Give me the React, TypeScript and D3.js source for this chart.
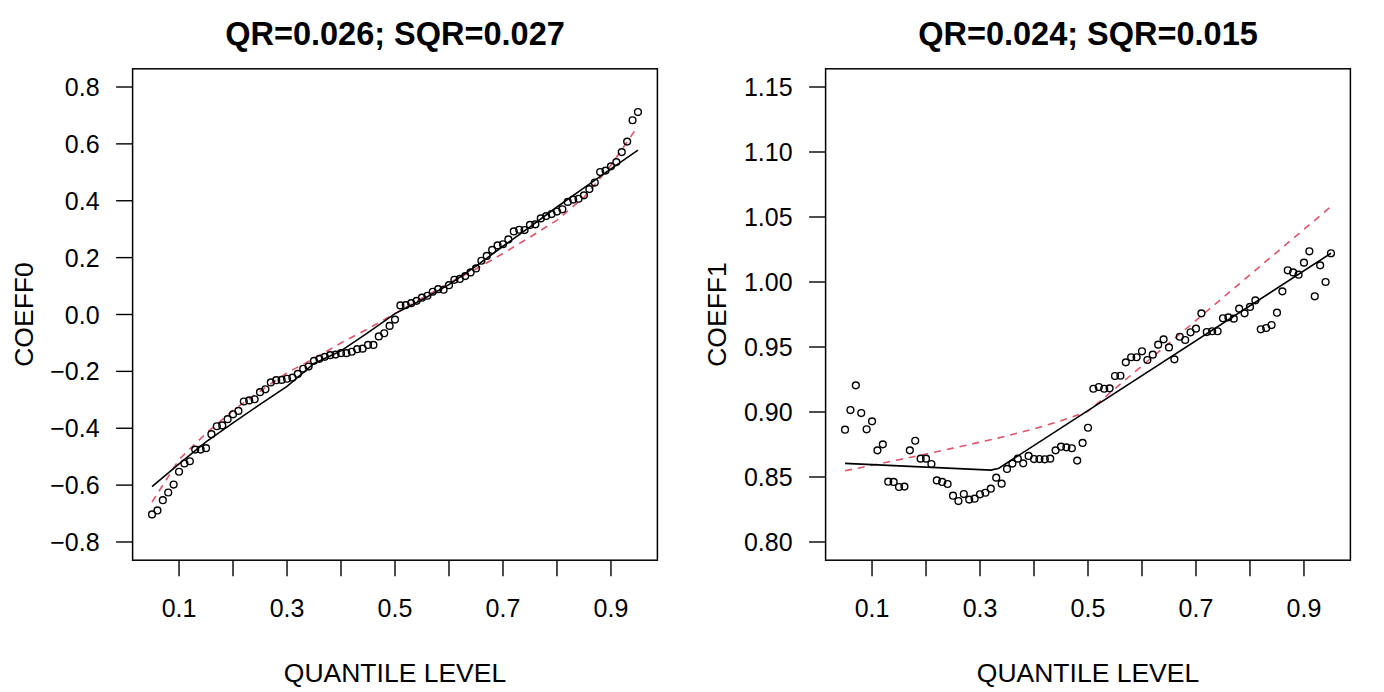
import React from 'react';
import * as d3 from 'd3';

// quantile levels of the estimates (x axis)
const quantileLevels = [
  0.05, 0.06, 0.07, 0.08, 0.09, 0.10, 0.11, 0.12, 0.13, 0.14,
  0.15, 0.16, 0.17, 0.18, 0.19, 0.20, 0.21, 0.22, 0.23, 0.24,
  0.25, 0.26, 0.27, 0.28, 0.29, 0.30, 0.31, 0.32, 0.33, 0.34,
  0.35, 0.36, 0.37, 0.38, 0.39, 0.40, 0.41, 0.42, 0.43, 0.44,
  0.45, 0.46, 0.47, 0.48, 0.49, 0.50, 0.51, 0.52, 0.53, 0.54,
  0.55, 0.56, 0.57, 0.58, 0.59, 0.60, 0.61, 0.62, 0.63, 0.64,
  0.65, 0.66, 0.67, 0.68, 0.69, 0.70, 0.71, 0.72, 0.73, 0.74,
  0.75, 0.76, 0.77, 0.78, 0.79, 0.80, 0.81, 0.82, 0.83, 0.84,
  0.85, 0.86, 0.87, 0.88, 0.89, 0.90, 0.91, 0.92, 0.93, 0.94, 0.95,
];

// QR estimates of the intercept (open circles, left panel)
const coeff0Points = [
  -0.703, -0.689, -0.653, -0.626, -0.598, -0.553, -0.524, -0.516, -0.475, -0.475,
  -0.470, -0.421, -0.393, -0.390, -0.368, -0.351, -0.339, -0.306, -0.302, -0.298,
  -0.273, -0.263, -0.239, -0.231, -0.230, -0.226, -0.222, -0.209, -0.191, -0.183,
  -0.163, -0.156, -0.149, -0.143, -0.141, -0.136, -0.136, -0.131, -0.122, -0.120,
  -0.107, -0.107, -0.077, -0.066, -0.040, -0.018, 0.032, 0.033, 0.040, 0.048,
  0.059, 0.066, 0.080, 0.089, 0.087, 0.103, 0.122, 0.125, 0.135, 0.148,
  0.162, 0.189, 0.206, 0.227, 0.243, 0.247, 0.264, 0.292, 0.298, 0.297,
  0.315, 0.317, 0.338, 0.346, 0.353, 0.362, 0.370, 0.396, 0.404, 0.407,
  0.419, 0.441, 0.464, 0.501, 0.506, 0.521, 0.536, 0.571, 0.608, 0.683, 0.712,
];

// QR estimates of the slope (open circles, right panel)
const coeff1Points = [
  0.8864, 0.9015, 0.9205, 0.8992, 0.8867, 0.8928, 0.8705, 0.8751, 0.8464, 0.8462,
  0.8423, 0.8426, 0.8705, 0.8779, 0.8641, 0.8641, 0.8600, 0.8474, 0.8462, 0.8446,
  0.8356, 0.8315, 0.8369, 0.8326, 0.8333, 0.8367, 0.8379, 0.8410, 0.8495, 0.8449,
  0.8562, 0.8603, 0.8641, 0.8605, 0.8662, 0.8638, 0.8638, 0.8636, 0.8641, 0.8705,
  0.8733, 0.8728, 0.8721, 0.8626, 0.8762, 0.8879, 0.9179, 0.9192, 0.9179, 0.9182,
  0.9277, 0.9279, 0.9382, 0.9421, 0.9421, 0.9467, 0.9400, 0.9441, 0.9518, 0.9559,
  0.9497, 0.9405, 0.9579, 0.9554, 0.9613, 0.9641, 0.9759, 0.9615, 0.9621, 0.9621,
  0.9721, 0.9728, 0.9718, 0.9795, 0.9759, 0.9808, 0.9859, 0.9636, 0.9646, 0.9669,
  0.9764, 0.9928, 1.0090, 1.0074, 1.0056, 1.0149, 1.0236, 0.9890, 1.0128, 1.0000, 1.0221,
];

// levels where the curves were read
const curveLevels = [
  0.05, 0.10, 0.15, 0.20, 0.25, 0.30, 0.35, 0.40, 0.45, 0.50,
  0.55, 0.60, 0.65, 0.70, 0.75, 0.80, 0.85, 0.90, 0.95,
];

// SQR curve (solid black) and true curve (dashed red), left panel
const coeff0Sqr = [
  -0.605, -0.525, -0.448, -0.381, -0.316, -0.253, -0.172, -0.128, -0.064, 0.003,
  0.052, 0.105, 0.170, 0.240, 0.308, 0.378, 0.445, 0.512, 0.578,
];
const coeff0True = [
  -0.660, -0.510, -0.418, -0.337, -0.270, -0.205, -0.155, -0.100, -0.050, 0.003,
  0.057, 0.110, 0.160, 0.215, 0.272, 0.332, 0.412, 0.525, 0.662,
];

// SQR curve, right panel (kinked)
const coeff1SqrLevels = [0.05, 0.32, 0.335, 0.95];
const coeff1Sqr = [0.8605, 0.8553, 0.8568, 1.0221];
// true curve, right panel
const coeff1True = [
  0.8548, 0.8590, 0.8633, 0.8677, 0.8722, 0.8768, 0.8816, 0.8870, 0.8932, 0.9005,
  0.9180, 0.9355, 0.9530, 0.9705, 0.9880, 1.0055, 1.0230, 1.0405, 1.0580,
];

const xTicks = [0.1, 0.2, 0.3, 0.4, 0.5, 0.6, 0.7, 0.8, 0.9];
const xTickLabels = ['0.1', '', '0.3', '', '0.5', '', '0.7', '', '0.9'];
const coeff0Ticks = [-0.8, -0.6, -0.4, -0.2, 0.0, 0.2, 0.4, 0.6, 0.8];
const coeff1Ticks = [0.80, 0.85, 0.90, 0.95, 1.00, 1.05, 1.10, 1.15];

const FONT = '"Liberation Sans", Arial, Helvetica, sans-serif';
const RED = '#DF536B';

type PanelProps = {
  left: number;
  title: string;
  ylabel: string;
  yDomain: [number, number];
  yTicks: number[];
  yFormat: (v: number) => string;
  points: number[];
  sqrLevels: number[];
  sqr: number[];
  truth: number[];
};

const Panel = ({ left, title, ylabel, yDomain, yTicks, yFormat, points, sqrLevels, sqr, truth }: PanelProps) => {
  const width = 524.8;
  const top = 68.8;
  const bottom = 560.2;

  const x = d3.scaleLinear().domain([0.014, 0.986]).range([left, left + width]);
  const y = d3.scaleLinear().domain(yDomain).range([bottom, top]);

  const line = d3.line<[number, number]>()
    .x(d => x(d[0]))
    .y(d => y(d[1]));

  const sqrPath = line(sqrLevels.map((q, i) => [q, sqr[i]]));
  const truePath = line(curveLevels.map((q, i) => [q, truth[i]]));
  const cx = left + width / 2;

  return (
    <g>
      <text x={cx} y={45} textAnchor="middle" fontSize={32.5} fontWeight="bold">{title}</text>

      {/* y axis */}
      {yTicks.map(t => (
        <g key={t}>
          <line x1={left - 16.5} x2={left} y1={y(t)} y2={y(t)} stroke="#000" strokeWidth={1.4} />
          <text x={left - 33} y={y(t)} dy="0.36em" textAnchor="end" fontSize={25}>{yFormat(t)}</text>
        </g>
      ))}
      <text transform={`translate(${left - 100},${(top + bottom) / 2}) rotate(-90)`} textAnchor="middle" fontSize={26.5}>{ylabel}</text>

      {/* x axis */}
      {xTicks.map((t, i) => (
        <g key={t}>
          <line x1={x(t)} x2={x(t)} y1={bottom} y2={bottom + 16} stroke="#000" strokeWidth={1.4} />
          {xTickLabels[i] && (
            <text x={x(t)} y={617} textAnchor="middle" fontSize={25}>{xTickLabels[i]}</text>
          )}
        </g>
      ))}
      <text x={cx} y={682} textAnchor="middle" fontSize={26.5}>QUANTILE LEVEL</text>

      {/* data */}
      <path d={truePath ?? ''} fill="none" stroke={RED} strokeWidth={1.6} strokeDasharray="7 6" />
      <path d={sqrPath ?? ''} fill="none" stroke="#000" strokeWidth={1.6} />
      {points.map((v, i) => (
        <circle key={i} cx={x(quantileLevels[i])} cy={y(v)} r={3.4} fill="none" stroke="#000" strokeWidth={1.4} />
      ))}

      <rect x={left} y={top} width={width} height={bottom - top} fill="none" stroke="#000" strokeWidth={1.5} />
    </g>
  );
};

const fmtMinus = (digits: number) => (v: number) => {
  const s = Math.abs(v).toFixed(digits);
  return v < -1e-9 ? `\u2212${s}` : s;
};

export default function App() {
  return (
    <svg
      width={1384}
      height={692}
      style={{ position: 'absolute', left: 0, top: 0, background: '#fff' }}
      fontFamily={FONT}
      fill="#000"
    >
      <rect width={1384} height={692} fill="#fff" />
      <Panel
        left={132.6}
        title="QR=0.026; SQR=0.027"
        ylabel="COEFF0"
        yDomain={[-0.864, 0.864]}
        yTicks={coeff0Ticks}
        yFormat={fmtMinus(1)}
        points={coeff0Points}
        sqrLevels={curveLevels}
        sqr={coeff0Sqr}
        truth={coeff0True}
      />
      <Panel
        left={825.6}
        title="QR=0.024; SQR=0.015"
        ylabel="COEFF1"
        yDomain={[0.786, 1.164]}
        yTicks={coeff1Ticks}
        yFormat={fmtMinus(2)}
        points={coeff1Points}
        sqrLevels={coeff1SqrLevels}
        sqr={coeff1Sqr}
        truth={coeff1True}
      />
    </svg>
  );
}
